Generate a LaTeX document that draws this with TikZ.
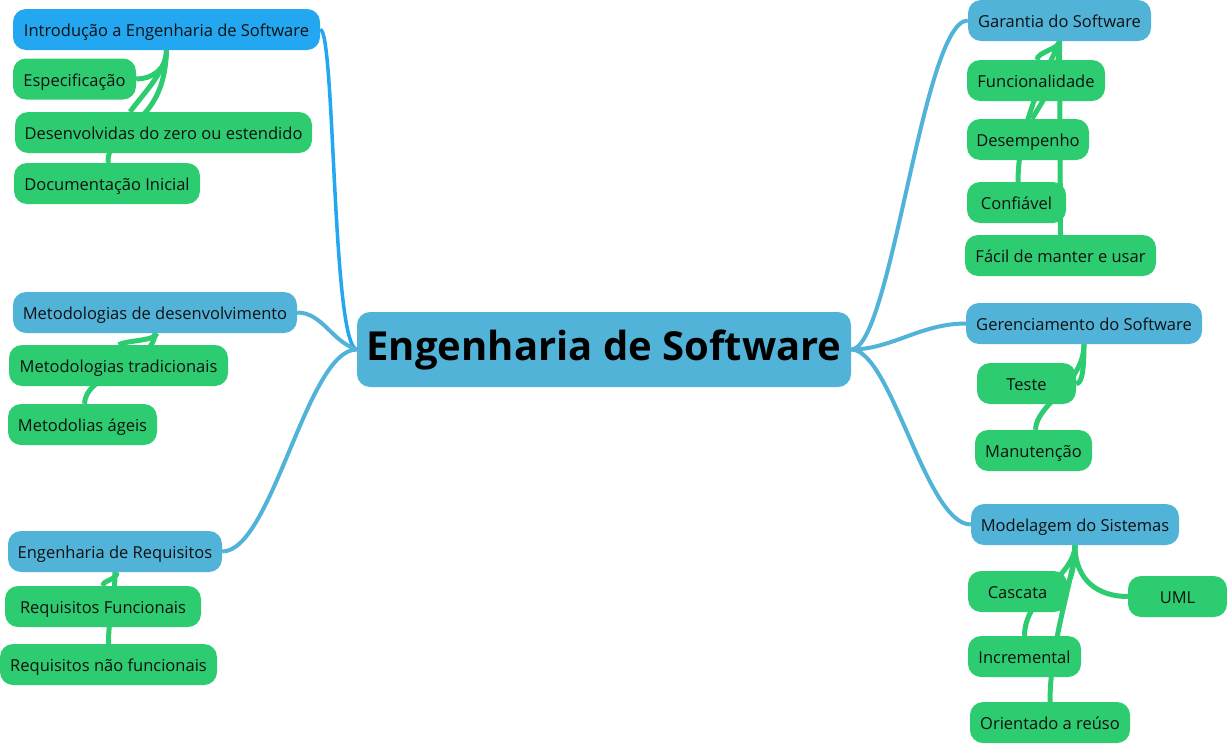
\documentclass[tikz,border=0pt]{standalone}
\usepackage{fontspec}
\setmainfont{Open Sans}
\usetikzlibrary{backgrounds}
\definecolor{mblue}{HTML}{52B3D9}
\definecolor{iblue}{HTML}{22A7F0}
\definecolor{mgreen}{HTML}{2ECC71}
\definecolor{txt}{HTML}{111111}
\tikzset{
  box/.style={rounded corners=13pt, minimum height=41pt, inner sep=0pt, text=txt,
    font=\fontsize{16.5}{19}\selectfont, text height=14.8pt, text depth=0pt, anchor=center},
  bluebox/.style={box, fill=mblue},
  introbox/.style={box, fill=iblue},
  greenbox/.style={box, fill=mgreen},
  centralbox/.style={rounded corners=13pt, inner sep=0pt, anchor=center, fill=mblue,
    minimum height=75pt, minimum width=494pt,
    font=\fontsize{40}{48}\selectfont\bfseries, text=black},
  bluelink/.style={draw=mblue, line width=4pt},
  introlink/.style={draw=iblue, line width=3.5pt},
  greenlink/.style={draw=mgreen, line width=5pt},
}
\begin{document}
\begin{tikzpicture}[x=1pt, y=-1pt]
\useasboundingbox (0,0) rectangle (1228,744);
% central
\node[centralbox] (central) at (604,349.5) {Engenharia de Software};
% left
\node[introbox, minimum width=307pt] (intro) at (166.5,29.5) {Introdução a Engenharia de Software};
\node[greenbox, minimum width=123pt] (espec) at (74.5,79) {Especificação};
\node[greenbox, minimum width=297pt] (desenv) at (163.5,132.5) {Desenvolvidas do zero ou estendido};
\node[greenbox, minimum width=186pt] (docum) at (107,183.5) {Documentação Inicial};
\node[bluebox, minimum width=284pt] (metdes) at (155,312.5) {Metodologias de desenvolvimento};
\node[greenbox, minimum width=219pt] (mettrad) at (118.5,365.5) {Metodologias tradicionais};
\node[greenbox, minimum width=149pt] (metageis) at (82.5,424.5) {Metodolias ágeis};
\node[bluebox, minimum width=214pt] (engreq) at (115,551.5) {Engenharia de Requisitos};
\node[greenbox, minimum width=196pt] (reqfun) at (103,606.5) {Requisitos Funcionais};
\node[greenbox, minimum width=217pt] (reqnao) at (108.5,664.5) {Requisitos não funcionais};
% right
\node[bluebox, minimum width=183pt] (garantia) at (1059.5,20.5) {Garantia do Software};
\node[greenbox, minimum width=138pt] (funcional) at (1036,80.5) {Funcionalidade};
\node[greenbox, minimum width=122pt] (desemp) at (1028,139.5) {Desempenho};
\node[greenbox, minimum width=99pt] (confiavel) at (1016.5,202.5) {Confiável};
\node[greenbox, minimum width=191pt] (facil) at (1060.5,255.5) {Fácil de manter e usar};
\node[bluebox, minimum width=236pt] (gerenc) at (1084,323.5) {Gerenciamento do Software};
\node[greenbox, minimum width=99pt] (teste) at (1026.5,383.5) {Teste};
\node[greenbox, minimum width=117pt] (manut) at (1033.5,450.5) {Manutenção};
\node[bluebox, minimum width=208pt] (modelagem) at (1075,524.5) {Modelagem do Sistemas};
\node[greenbox, minimum width=99pt] (cascata) at (1017.5,591.5) {Cascata};
\node[greenbox, minimum width=99pt] (uml) at (1177.5,596.5) {UML};
\node[greenbox, minimum width=113pt] (incremental) at (1024.5,656.5) {Incremental};
\node[greenbox, minimum width=160pt] (orientado) at (1050,722.5) {Orientado a reúso};

\begin{pgfonlayer}{background}
% main links
\path[introlink] (intro.east) .. controls +(15,0) and +(-25,-5) .. (central.west);
\path[bluelink] (metdes.east) .. controls +(25,0) and +(-25,-8) .. (central.west);
\path[bluelink] (engreq.east) .. controls +(50,0) and +(-50,0) .. (central.west);
\path[bluelink] (central.east) .. controls +(40,0) and +(-45,0) .. (garantia.west);
\path[bluelink] (central.east) .. controls +(40,0) and +(-45,0) .. (gerenc.west);
\path[bluelink] (central.east) .. controls +(40,0) and +(-45,0) .. (modelagem.west);
% intro children
\path[greenlink] (intro.south) .. controls +(0,20) and +(15,0) .. (espec.east);
\path[greenlink] (intro.south) .. controls +(0,20) and +(15,-20) .. ([xshift=-33.5pt]desenv.north);
\path[greenlink] (intro.south) .. controls +(-2,80) and +(0,-40) .. ([xshift=1pt]docum.north);
% metdes children
\path[greenlink] ([xshift=2pt]metdes.south) .. controls +(-2,8) and +(10,-5) .. (mettrad.north);
\path[greenlink] (metdes.south) .. controls +(0,30) and +(0,-30) .. ([xshift=2pt]metageis.north);
% engreq children
\path[greenlink] ([xshift=2pt]engreq.south) .. controls +(0,8) and +(0,-6) .. (reqfun.north);
\path[greenlink] (engreq.south) .. controls +(0,30) and +(0,-30) .. (reqnao.north);
% garantia children
\path[greenlink] (garantia.south) .. controls +(0,8) and +(0,-8) .. ([xshift=1pt]funcional.north);
\path[greenlink] (garantia.south) -- (facil.north);
\path[greenlink] (garantia.south) .. controls +(0,39) and +(8,-14) .. ([xshift=4pt]desemp.north);
\path[greenlink] (garantia.south) .. controls +(-10,25) and +(0,-60) .. ([xshift=1.5pt]confiavel.north);
% gerenc children
\path[greenlink] (gerenc.south) .. controls +(0,30) and +(5,0) .. (teste.east);
\path[greenlink] (gerenc.south) .. controls +(0,40) and +(0,-25) .. ([xshift=2pt]manut.north);
% modelagem children
\path[greenlink] (modelagem.south) .. controls +(0,15) and +(5,-5) .. ([yshift=8pt]cascata.east);
\path[greenlink] (modelagem.south) .. controls +(0,35) and +(-30,0) .. (uml.west);
\path[greenlink] (modelagem.south) .. controls +(0,30) and +(0,-40) .. (incremental.north);
\path[greenlink] (modelagem.south) .. controls +(0,30) and +(0,-62) .. (orientado.north);
\end{pgfonlayer}
\end{tikzpicture}
\end{document}
